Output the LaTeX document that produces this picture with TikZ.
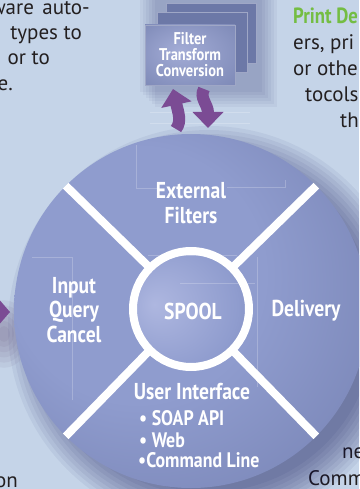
\documentclass[tikz,border=0pt]{standalone}
\usepackage{fontspec}
\setmainfont{PT Sans}
\newfontfamily\condfont{PT Sans}[FakeStretch=0.85]
\usetikzlibrary{arrows.meta}
\definecolor{paper}{HTML}{C5D4E8}
\definecolor{wheelout}{HTML}{6873A3}
\definecolor{wheelin}{HTML}{8F9CCE}
\definecolor{hubhi}{HTML}{AEB7E0}
\definecolor{boxback}{HTML}{6C78A7}
\definecolor{boxfill}{HTML}{7A86B4}
\definecolor{boxhi}{HTML}{A3ACD6}
\definecolor{flow}{HTML}{7B4B94}
\definecolor{leafgreen}{HTML}{74BD43}
\definecolor{ink}{HTML}{231F20}
\pgfdeclareradialshading{wheelshade}{\pgfpoint{-12bp}{8bp}}{color(0bp)=(wheelin); color(18bp)=(wheelin); color(50bp)=(wheelout)}
\pgfdeclareradialshading{hubshade}{\pgfpoint{-16bp}{2bp}}{color(0bp)=(hubhi); color(28bp)=(wheelin); color(55bp)=(wheelout)}
\pgfdeclareradialshading{boxshade}{\pgfpoint{-6bp}{4bp}}{color(0bp)=(boxhi); color(16bp)=(boxhi!60!boxfill); color(40bp)=(boxfill)}

\begin{document}
\begin{tikzpicture}[x=1pt,y=-1pt,
  seg/.style={text=white,font=\condfont\bfseries\fontsize{23}{24.5}\selectfont,align=center,inner sep=0},
  bull/.style={text=white,font=\condfont\bfseries\fontsize{21}{21.5}\selectfont,anchor=base west,inner sep=0},
  body/.style={text=ink,font=\fontsize{21}{25.5}\selectfont,inner sep=0},
  spoke/.style={draw=white,line width=8pt},
  sheet/.style={draw=white!35!boxback,line width=0.8pt,fill=boxback,minimum width=90,minimum height=60,inner sep=0},
  arr/.style={draw=flow,line width=12pt,-{Triangle[length=16pt,width=30pt]}},
  faint/.style={white,opacity=0.22,line width=0.6pt}]
\def\cx{191}
\def\cy{311}
\def\R{177}

\clip (0,0) rectangle (359,489);
\fill[paper] (0,0) rectangle (359,489);

% text around the wheel
\node[body,anchor=base east] (L1) at (90,15) {ware\hspace{0.4em}auto-};
\node[body,anchor=base east] (L2) at (82,40) {types to};
\node[body,anchor=base east] (L3) at (50,65) {or to};
\node[body,anchor=base east] (L4) at (13,91) {e.};
\node[body,anchor=base west,text=leafgreen,font=\condfont\bfseries\fontsize{22}{24}\selectfont] (R1) at (293,24) {Print De};
\node[body,anchor=base west] (R2) at (293,50) {ers, pri};
\node[body,anchor=base west] (R3) at (293,76) {or othe};
\node[body,anchor=base west] (R4) at (305,102) {tocols};
\node[body,anchor=base west] (R5) at (340,128) {th};
\node[body,anchor=base east] (B1) at (18,487) {on};
\node[body,anchor=base west] (B2) at (342,458) {ne};
\node[body,anchor=base west] (B3) at (308,485) {Comm};

% shadow
\foreach \s in {-12,-8,...,24}
  \fill[black!70!blue,opacity=0.05] (\cx+18,\cy+16) circle [radius=\R+\s];
\foreach \s in {6,10,...,26}
  \fill[flow!60!black,opacity=0.06] (4,334) ellipse [x radius=\s,y radius=1.3*\s];

\coordinate (inlead) at (-40,312);
\coordinate (intip) at (10,312);
\draw[arr,-{Triangle[length=16pt,width=36pt]}] (inlead) -- (intip);

\node[circle,minimum size=2*\R,inner sep=0,shading=wheelshade] (wheel) at (\cx,\cy) {};

\draw[faint] (136,145) -- (136,188) -- (157,188);
\draw[faint] (32,257) -- (72,257) -- (72,400);
\draw[faint] (227,187) -- (285,187) -- (285,180);
\draw[faint] (257,257) -- (257,387);

\node[circle,minimum size=116,inner sep=0,draw=white,line width=8pt,shading=hubshade] (hub) at (\cx,\cy-2) {};
\draw[spoke,shorten <=-3pt] (hub.45) -- (wheel.45);
\draw[spoke,shorten <=-3pt] (hub.135) -- (wheel.135);
\draw[spoke,shorten <=-3pt] (hub.225) -- (wheel.225);
\draw[spoke,shorten <=-3pt] (hub.315) -- (wheel.315);
\draw[faint] (148,255) -- (237,255);
\draw[faint] (180,283) -- (255,283);

\node[seg] (ext) at (191,203) {External\\Filters};
\node[seg] (inp) at (74,310) {Input\\Query\\Cancel};
\node[seg] (spool) at (193,311) {SPOOL};
\node[seg] (deliv) at (306,311) {Delivery};
\node[seg] (ui) at (192,392) {User Interface};
\node[bull] (soap) at (139,425) {• SOAP API};
\node[bull] (web) at (139,447) {• Web};
\node[bull] (cli) at (138,467) {•Command Line};

% filter stack
\foreach \s in {0,3,...,15}
  \fill[black!70!blue,opacity=0.04] (140+\s,0-\s) rectangle (262+\s,92+\s);
\draw[faint] (150,112) -- (250,112);
\draw[faint] (150,123) -- (250,123);
\node[sheet] (back) at (211.5,33) {};
\node[sheet] (mid) at (202,42) {};
\node[sheet,shading=boxshade,text=white,align=center,font=\condfont\bfseries\fontsize{17}{16}\selectfont] (filt) at (190,55) {Filter\\Transform\\Conversion};

\coordinate (upfoot) at (176,129);
\coordinate (uptip) at (173,89);
\coordinate (dntop) at (204,89);
\coordinate (dntip) at (208,128);
\draw[arr] (upfoot) .. controls (182,121) and (178,112) .. (uptip);
\draw[arr] (dntop) .. controls (199,98) and (208,104) .. (dntip);
\end{tikzpicture}
\end{document}
